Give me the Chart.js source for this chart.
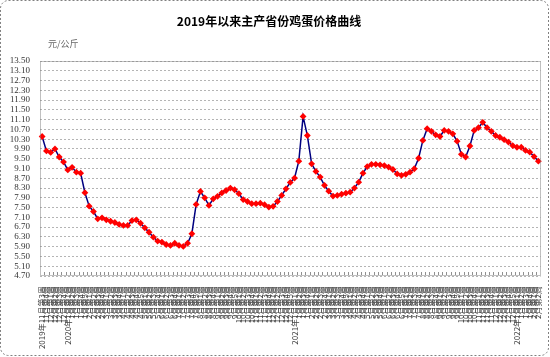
<!DOCTYPE html>
<html>
<head>
<meta charset="utf-8">
<script src="https://cdn.jsdelivr.net/npm/chart.js@4.4.1/dist/chart.umd.min.js"></script>
<style>html,body{margin:0;padding:0;background:#fff;}canvas{display:block;}</style>
</head>
<body>
<canvas id="c" width="550" height="357"></canvas>
<script>
const titleText = "2019年以来主产省份鸡蛋价格曲线";
const unitText = "元/公斤";

const weekLabels = [
"2019年11月第3周","11月第4周","12月第1周","12月第2周","12月第3周","12月第4周",
"2020年1月第1周","1月第2周","1月第3周","1月第4周","1月第5周",
"2月第1周","2月第2周","2月第3周","2月第4周",
"3月第1周","3月第2周","3月第3周","3月第4周",
"4月第1周","4月第2周","4月第3周","4月第4周","4月第5周",
"5月第1周","5月第2周","5月第3周","5月第4周",
"6月第1周","6月第2周","6月第3周","6月第4周",
"7月第1周","7月第2周","7月第3周","7月第4周","7月第5周",
"8月第1周","8月第2周","8月第3周","8月第4周",
"9月第1周","9月第2周","9月第3周","9月第4周","9月第5周",
"10月第1周","10月第2周","10月第3周","10月第4周",
"11月第1周","11月第2周","11月第3周","11月第4周",
"12月第1周","12月第2周","12月第3周","12月第4周","12月第5周",
"2021年1月第1周","1月第2周","1月第3周","1月第4周",
"2月第1周","2月第2周","2月第3周","2月第4周",
"3月第1周","3月第2周","3月第3周","3月第4周","3月第5周",
"4月第1周","4月第2周","4月第3周","4月第4周",
"5月第1周","5月第2周","5月第3周","5月第4周",
"6月第1周","6月第2周","6月第3周","6月第4周","6月第5周",
"7月第1周","7月第2周","7月第3周","7月第4周",
"8月第1周","8月第2周","8月第3周","8月第4周",
"9月第1周","9月第2周","9月第3周","9月第4周","9月第5周",
"10月第1周","10月第2周","10月第3周","10月第4周",
"11月第1周","11月第2周","11月第3周","11月第4周",
"12月第1周","12月第2周","12月第3周","12月第4周","12月第5周",
"2022年1月第1周","1月第2周","1月第3周","1月第4周",
"2月第1周","2月第2周"
];

const eggPrice = [
10.41, 9.82, 9.76, 9.90, 9.57, 9.37, 9.04, 9.15, 8.95, 8.91,
8.11, 7.56, 7.34, 7.04, 7.08, 7.00, 6.94, 6.89, 6.81, 6.77,
6.77, 6.97, 7.00, 6.86, 6.67, 6.49, 6.29, 6.13, 6.09, 5.99,
5.95, 6.04, 5.95, 5.91, 6.04, 6.43, 7.63, 8.16, 7.90, 7.59,
7.86, 7.96, 8.10, 8.20, 8.30, 8.23, 8.07, 7.83, 7.75, 7.66,
7.66, 7.68, 7.62, 7.52, 7.55, 7.75, 8.00, 8.27, 8.53, 8.71,
9.40, 11.23, 10.45, 9.29, 8.98, 8.75, 8.41, 8.17, 7.97, 8.00,
8.05, 8.09, 8.13, 8.30, 8.54, 8.91, 9.18, 9.27, 9.27, 9.25,
9.22, 9.16, 9.06, 8.88, 8.82, 8.86, 8.95, 9.09, 9.52, 10.25,
10.73, 10.62, 10.48, 10.41, 10.66, 10.62, 10.52, 10.22, 9.68, 9.57,
10.02, 10.66, 10.77, 10.99, 10.77, 10.62, 10.45, 10.38, 10.28, 10.18,
10.04, 9.97, 9.97, 9.84, 9.77, 9.59, 9.40
];

const yMin = 4.70, yMax = 13.50, yStep = 0.40;

const deco = {
  id: 'deco',
  beforeDraw(chart) {
    const ctx = chart.ctx;
    ctx.save();
    ctx.fillStyle = '#fff';
    ctx.fillRect(0, 0, chart.width, chart.height);
    ctx.restore();
  },
  afterDatasetsDraw(chart) {
    const ctx = chart.ctx, a = chart.chartArea;
    ctx.save();
    ctx.setLineDash([1, 1]);
    ctx.strokeStyle = '#808080';
    ctx.lineWidth = 1;
    ctx.strokeRect(Math.round(a.left) + 0.5, Math.round(a.top) + 0.5,
                   Math.round(a.right - a.left) - 1, Math.round(a.bottom - a.top) - 1);
    ctx.setLineDash([]);
    ctx.strokeStyle = '#909090';
    const n = weekLabels.length, slot = (a.right - a.left) / n;
    ctx.beginPath();
    for (let k = 1; k < n; k++) {
      const x = Math.round(a.left + k * slot) + 0.5;
      ctx.moveTo(x, a.bottom - 1);
      ctx.lineTo(x, a.bottom - 4);
    }
    ctx.stroke();
    ctx.restore();
  },
  afterDraw(chart) {
    const ctx = chart.ctx;
    ctx.save();
    ctx.setLineDash([2, 2]);
    ctx.strokeStyle = '#808080';
    ctx.lineWidth = 1;
    ctx.beginPath();
    ctx.roundRect(0.5, 0.5, 548, 355, 8);
    ctx.stroke();
    ctx.setLineDash([]);
    ctx.fillStyle = '#000';
    ctx.font = 'bold 12px "Noto Sans CJK SC"';
    ctx.textAlign = 'center';
    ctx.textBaseline = 'middle';
    ctx.fillText(titleText, 269, 21);
    ctx.font = '9px "Noto Sans CJK SC"';
    ctx.fillStyle = '#666';
    ctx.textAlign = 'left';
    ctx.fillText(unitText, 48, 44);
    ctx.restore();
  }
};

new Chart(document.getElementById('c'), {
  type: 'line',
  data: {
    labels: weekLabels,
    datasets: [{
      data: eggPrice,
      borderColor: '#000080',
      borderWidth: 1.5,
      pointStyle: 'rectRot',
      pointRadius: 3.4,
      pointBackgroundColor: '#ff0000',
      pointBorderColor: '#ff0000',
      pointBorderWidth: 0,
      tension: 0,
      fill: false
    }]
  },
  plugins: [deco],
  options: {
    responsive: false,
    animation: false,
    devicePixelRatio: 1,
    layout: { padding: { top: 61, right: 9, left: 0, bottom: 0 } },
    plugins: { legend: { display: false }, title: { display: false }, tooltip: { enabled: false } },
    scales: {
      x: {
        offset: true,
        grid: { display: false },
        border: { display: false },
        ticks: {
          autoSkip: false,
          minRotation: 90,
          maxRotation: 90,
          padding: 2,
          color: '#444',
          font: { family: '"Noto Sans CJK SC"', size: 8 }
        },
        afterFit(s) { s.height = 81; }
      },
      y: {
        min: yMin,
        max: yMax,
        grid: { color: '#b4b4b4', drawTicks: false, lineWidth: 1 },
        border: { display: false, dash: [2, 2] },
        ticks: {
          stepSize: yStep,
          autoSkip: false,
          padding: 10,
          color: '#333',
          font: { family: '"Liberation Serif"', size: 9 },
          callback: v => Number(v).toFixed(2)
        },
        afterFit(s) { s.width = 40; }
      }
    }
  }
});
</script>
</body>
</html>
